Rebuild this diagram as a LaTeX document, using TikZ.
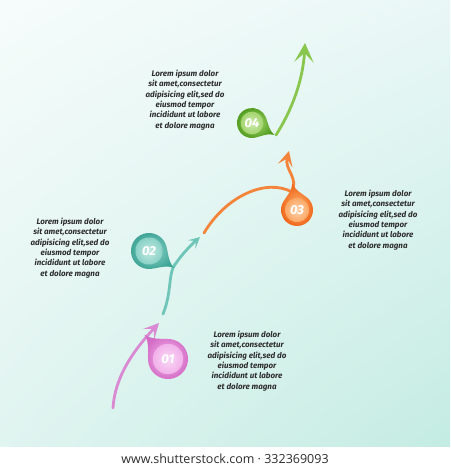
\documentclass[tikz,border=0pt]{standalone}
\usepackage{fontspec}
\usetikzlibrary{arrows.meta,positioning,calc,shadings}
\newfontfamily\footfont{Open Sans}
\newfontfamily\lorfont{Fira Sans}
\definecolor{bgTL}{HTML}{F6FCFB}
\definecolor{bgTR}{HTML}{E9F7F6}
\definecolor{bgBL}{HTML}{E0F4F0}
\definecolor{bgBR}{HTML}{C4ECE2}
\definecolor{pinkD}{HTML}{D46CC6}\definecolor{pinkL}{HTML}{F5B8EE}\definecolor{pinkA}{HTML}{D98AD2}
\definecolor{tealD}{HTML}{3EA496}\definecolor{tealL}{HTML}{8ED6CA}\definecolor{tealA}{HTML}{6FC6B8}
\definecolor{orngD}{HTML}{EE6418}\definecolor{orngL}{HTML}{FFAE6A}\definecolor{orngA}{HTML}{F3843A}
\definecolor{grnD}{HTML}{4E9A1C}\definecolor{grnL}{HTML}{A9DA70}\definecolor{grnA}{HTML}{88C64E}
\definecolor{txt}{HTML}{2E2E2E}
% \drawdrop{centre}{tail angle}{radius}{dark}{light}
\newcommand{\drawdrop}[5]{%
  \begin{scope}[shift={(#1)},rotate=#2,scale=#3]
    \shade[inner color=#5,outer color=#4] (1.7,0) .. controls (1.25,0.08) and (1.0,0.45) .. (50:1)
      arc[start angle=50,end angle=310,radius=1] .. controls (1.0,-0.45) and (1.25,-0.08) .. cycle;
    \shade[inner color=#5!55!white,outer color=#5!85!#4] (0,0) circle[radius=0.76];
  \end{scope}}

\begin{document}
\begin{tikzpicture}[x=1pt,y=-1pt, on grid,
  lorem/.style={text=txt,align=center,font=\lorfont\bfseries\itshape\fontsize{8}{10.3}\selectfont,inner sep=0pt},
  num/.style={text=white,font=\lorfont\bfseries\itshape\fontsize{13}{13}\selectfont,inner sep=0pt},
  arr/.style={line width=2.8pt,line cap=round},
  foot/.style={text=txt,font=\footfont\fontsize{12.5}{13}\selectfont,inner sep=0pt}]
  \useasboundingbox (0,0) rectangle (450,470);
  % background and footer band
  \shade[upper left=bgTL,upper right=bgTR,lower left=bgBL,lower right=bgBR] (0,0) rectangle (450,447);
  \fill[white] (0,447) rectangle (450,470);

  % Arrows behind the drops
  \draw[arr,pinkA,-{Stealth[length=15pt,width=15pt,inset=7pt]}]
    (113,408) .. controls (115,376) and (134,350) .. (159,323);
  \draw[arr,tealA] (163,314) .. controls (172,292) and (168,274) .. (175,264);
  \draw[arr,tealA,-{Stealth[length=11pt,width=11pt,inset=5pt]}]
    (174,266) .. controls (182,254) and (190,246) .. (200,237);
  \draw[arr,orngA] (204,233) .. controls (226,196) and (266,178) .. (292,192);
  \draw[arr,orngA,-{Stealth[length=15pt,width=15pt,inset=7pt]}]
    (291,194) .. controls (300,178) and (284,170) .. (289,151);
  \draw[arr,grnA,-{Stealth[length=19pt,width=19pt,inset=9pt]}]
    (276,135) .. controls (292,110) and (303,80) .. (305,43);

  % Drops
  \drawdrop{168,359}{134}{20}{pinkD}{pinkL}
  \drawdrop{149,251}{-34}{18}{tealD}{tealL}
  \drawdrop{297,210}{100}{16}{orngD}{orngL}
  \drawdrop{252,123}{-28}{15}{grnD}{grnL}

  % Numbers
  \node[num] (n1) at (168,359) {01};
  \node[num] (n2) at (149,251) {02};
  \node[num] (n3) at (297,210) {03};
  \node[num] (n4) at (252,123) {04};

  % Texts
  \node[lorem] (t1) [below right=2pt and 79pt of n1] {Lorem ipsum dolor\\sit amet,consectetur\\adipisicing elit,sed do\\eiusmod tempor\\incididunt ut labore\\et dolore magna};
  \node[lorem] (t2) [above left=3pt and 79pt of n2] {Lorem ipsum dolor\\sit amet,consectetur\\adipisicing elit,sed do\\eiusmod tempor\\incididunt ut labore\\et dolore magna};
  \node[lorem] (t3) [below right=10pt and 81pt of n3] {Lorem ipsum dolor\\sit amet,consectetur\\adipisicing elit,sed do\\eiusmod tempor\\incididunt ut labore\\et dolore magna};
  \node[lorem] (t4) [above left=23pt and 67pt of n4] {Lorem ipsum dolor\\sit amet,consectetur\\adipisicing elit,sed do\\eiusmod tempor\\incididunt ut labore\\et dolore magna};

  \node[foot] (ft) at (225,459) {www.shutterstock.com · 332369093};
\end{tikzpicture}
\end{document}
